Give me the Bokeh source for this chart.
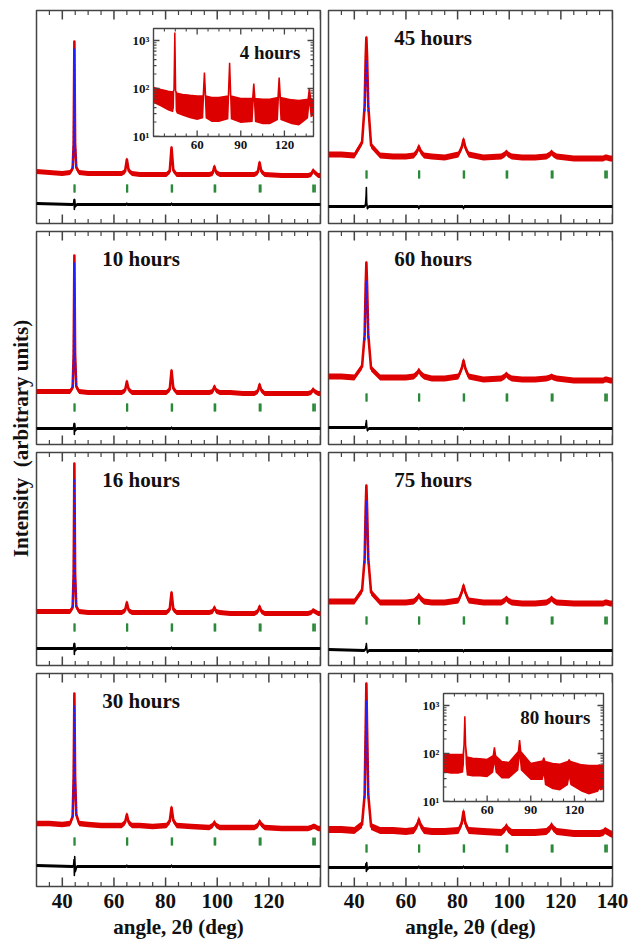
import math
from bokeh.plotting import figure
from bokeh.models import (Range1d, LinearAxis, LogAxis, SingleIntervalTicker, FixedTicker,
                          CustomJSTickFormatter, Label, LogScale)
from bokeh.embed import file_html
from bokeh.resources import INLINE
from bokeh.core.properties import value

# ---------------- data (arbitrary units) ----------------
ANGLE = [30, 35, 40, 43.0, 44.0, 44.4, 44.67, 44.95, 45.4, 46.5, 50, 55, 60,
         63.0, 64.3, 65.0, 65.7, 67.0, 70, 75, 80.3, 81.6, 82.3, 83.0, 84.3, 90,
         96.9, 98.2, 98.9, 99.6, 101.0, 105, 110, 114.4, 115.7, 116.4, 117.1, 118.4,
         125, 130, 135.1, 136.4, 137.1, 137.8, 139.1, 140]

OBS_4H = [52, 51, 50, 51, 55, 80, 182, 80, 56, 51, 50, 50, 50, 50, 52, 64, 53, 50, 49, 49,
          49, 52, 76, 53, 49, 49, 49, 50, 57, 51, 49, 49, 49, 49, 51, 61, 52, 49, 48, 48,
          48, 49, 53, 51, 48, 48]
OBS_45H = [69, 69, 68, 81, 118, 166, 186, 166, 118, 78, 68, 67, 67, 68, 72, 77, 72, 68, 67, 66,
           69, 76, 84, 76, 69, 66, 67, 69, 71, 69, 67, 66, 66, 67, 69, 71, 69, 67, 65, 65,
           65, 65, 66, 66, 65, 65]
OBS_10H = [53, 53, 53, 53, 57, 90, 189, 90, 58, 53, 52, 52, 52, 52, 54, 63, 55, 52, 52, 52,
           52, 55, 74, 56, 52, 52, 52, 53, 58, 54, 52, 52, 51, 51, 53, 60, 54, 51, 51, 51,
           51, 52, 55, 53, 51, 51]
OBS_60H = [68, 68, 67, 78, 110, 159, 182, 159, 110, 76, 67, 67, 67, 68, 71, 74, 71, 68, 66, 66,
           68, 76, 84, 76, 68, 65, 66, 68, 70, 68, 66, 65, 65, 66, 67, 68, 67, 66, 64, 64,
           64, 64, 65, 65, 64, 64]
OBS_16H = [54, 54, 54, 54, 58, 92, 202, 92, 59, 54, 53, 53, 53, 53, 55, 63, 55, 53, 53, 53,
           53, 56, 73, 56, 53, 53, 53, 54, 58, 54, 53, 52, 52, 52, 54, 59, 54, 52, 52, 52,
           52, 53, 55, 54, 52, 52]
OBS_75H = [64, 64, 64, 75, 107, 157, 180, 157, 107, 73, 63, 63, 63, 64, 67, 70, 67, 64, 63, 63,
           65, 73, 80, 73, 65, 63, 63, 65, 67, 65, 63, 62, 62, 63, 65, 67, 65, 63, 62, 62,
           62, 62, 63, 63, 62, 62]
OBS_30H = [63, 63, 62, 63, 70, 110, 193, 110, 72, 63, 62, 61, 61, 61, 64, 72, 64, 61, 61, 60,
           61, 65, 79, 66, 61, 60, 59, 61, 64, 61, 59, 59, 59, 59, 61, 65, 62, 59, 58, 58,
           58, 59, 60, 60, 58, 58]
OBS_80H = [57, 57, 56, 62, 92, 157, 203, 157, 92, 60, 56, 56, 55, 56, 61, 67, 61, 56, 55, 55,
           56, 63, 75, 63, 56, 55, 54, 57, 60, 57, 54, 54, 54, 55, 58, 61, 58, 55, 53, 53,
           53, 54, 56, 55, 53, 52]

CALC_ANGLE = [44.0, 44.4, 44.67, 44.95, 45.4]
CALC_4H = [55, 78, 175, 78, 56]
CALC_45H = [112, 150, 163, 150, 112]
CALC_10H = [57, 86, 182, 86, 58]
CALC_60H = [104, 145, 164, 145, 104]
CALC_16H = [58, 88, 187, 88, 59]
CALC_75H = [102, 146, 165, 146, 102]
CALC_30H = [69, 104, 181, 104, 71]
CALC_80H = [88, 145, 186, 145, 88]

DIFF_ANGLE = [30, 43.8, 44.3, 44.55, 44.67, 44.8, 45.05, 45.6, 64.8, 65.0, 65.2, 82.1, 82.3, 82.5, 140]
DIFF_4H = [20, 19, 19, 24, 14, 24, 17, 19, 19, 20, 19, 19, 20, 19, 19]
DIFF_45H = [17, 17, 18, 27, 36, 21, 15, 17, 17, 15, 17, 17, 15, 17, 17]
DIFF_10H = [16, 16, 16, 21, 10, 21, 14, 16, 16, 17, 16, 16, 17, 16, 16]
DIFF_60H = [17, 17, 17, 21, 24, 19, 14, 16, 16, 15, 16, 16, 15, 16, 16]
DIFF_16H = [17, 17, 17, 22, 11, 22, 15, 17, 17, 18, 17, 17, 18, 17, 17]
DIFF_75H = [16, 15, 16, 19, 22, 18, 13, 15, 15, 14, 15, 15, 14, 15, 15]
DIFF_30H = [21, 20, 20, 27, 11, 30, 15, 20, 20, 21, 20, 20, 21, 20, 20]
DIFF_80H = [19, 19, 19, 23, 15, 24, 17, 19, 19, 20, 19, 19, 20, 19, 19]

# Bragg reflection positions (K-alpha1 and K-alpha2)
BRAGG = [44.67, 65.02, 82.33, 98.95, 116.39, 137.14,
         44.79, 65.20, 82.58, 99.28, 116.85, 137.86]
TICK_LEVEL = {"4 hours": 35, "45 hours": 49, "10 hours": 37, "60 hours": 47,
              "16 hours": 38, "75 hours": 45, "30 hours": 45, "80 hours": 38}

LABELS = ["4 hours", "45 hours", "10 hours", "60 hours", "16 hours", "75 hours", "30 hours", "80 hours"]
OBS = [OBS_4H, OBS_45H, OBS_10H, OBS_60H, OBS_16H, OBS_75H, OBS_30H, OBS_80H]
CALC = [CALC_4H, CALC_45H, CALC_10H, CALC_60H, CALC_16H, CALC_75H, CALC_30H, CALC_80H]
DIFF = [DIFF_4H, DIFF_45H, DIFF_10H, DIFF_60H, DIFF_16H, DIFF_75H, DIFF_30H, DIFF_80H]

# axis tick positions
X_MAJOR = [40, 60, 80, 100, 120, 140]
X_MINOR = [35, 45, 50, 55, 65, 70, 75, 85, 90, 95, 105, 110, 115, 125, 130, 135]
IN_X_MAJOR = [60, 90, 120]
IN_X_MINOR = [37.5, 45, 52.5, 67.5, 75, 82.5, 97.5, 105, 112.5, 127.5, 135]
IN_Y_MAJOR = [10, 100, 1000]
IN_Y_MINOR = [20, 30, 40, 50, 60, 70, 80, 90, 200, 300, 400, 500, 600, 700, 800, 900]

# insets (counts, log scale): upper / lower edge of the observed scatter band
INSET_ANGLE = [30, 35, 40, 43.5, 44.1, 44.67, 45.2, 46, 50, 55, 60, 64.2, 65.02, 65.8, 70, 75,
               81.5, 82.33, 83.1, 90, 98.2, 98.95, 99.7, 105, 110, 115.6, 116.39, 117.2,
               125, 130, 136.3, 137.14, 138, 140]
INSET4_HI = [105, 95, 88, 85, 95, 1470, 90, 80, 75, 72, 70, 70, 215, 70, 65, 65, 70, 345, 70, 62,
             62, 127, 62, 60, 60, 65, 170, 65, 58, 56, 60, 100, 62, 56]
INSET4_LO = [50, 42, 35, 32, 40, 300, 35, 30, 27, 24, 22, 24, 90, 24, 20, 20, 23, 120, 23, 19,
             20, 55, 20, 18, 18, 22, 70, 22, 18, 17, 24, 45, 25, 27]
INSET80_HI = [95, 95, 95, 95, 150, 600, 150, 85, 80, 78, 75, 90, 135, 90, 68, 65, 110, 190, 110, 62,
              70, 82, 68, 62, 60, 68, 75, 68, 58, 56, 56, 58, 56, 56]
INSET80_LO = [40, 38, 38, 40, 60, 250, 60, 35, 33, 33, 32, 40, 60, 40, 30, 30, 45, 80, 45, 28,
              28, 35, 22, 18, 17, 22, 30, 22, 16, 14, 16, 18, 17, 18]

# ---------------- style ----------------
FONT = "Liberation Serif"
RED = "#dd0000"
BLUE = "#1f1fff"
GREEN = "#2b8a3a"
FRAME = "#444444"
BAND_HALF = {"4 hours": 2.5, "45 hours": 3, "10 hours": 2.5, "60 hours": 3,
             "16 hours": 2.5, "75 hours": 3, "30 hours": 2.7, "80 hours": 3.5}
COLS = [36, 328]
ROWS = [10, 231, 452, 673]
FW, FH = 284, 213

blank = CustomJSTickFormatter(code="return '';")


def x_axis(labels, hide=None):
    ax = LinearAxis(ticker=FixedTicker(ticks=X_MAJOR), major_tick_in=0, major_tick_out=0,
                    minor_tick_in=0, minor_tick_out=0, axis_line_color=None,
                    major_tick_line_color=None, minor_tick_line_color=None)
    if labels:
        code = "return tick >= 139 ? '' : tick.toFixed(0);" if hide else "return tick.toFixed(0);"
        ax.formatter = CustomJSTickFormatter(code=code)
        ax.major_label_text_font = FONT
        ax.major_label_text_font_style = "bold"
        ax.major_label_text_font_size = "21px"
        ax.major_label_text_color = "#111111"
        ax.major_label_standoff = 7
        ax.axis_label = "angle, 2\u03b8 (deg)"
        ax.axis_label_text_font = FONT
        ax.axis_label_text_font_style = "bold"
        ax.axis_label_text_font_size = "21px"
        ax.axis_label_text_color = "#111111"
        ax.axis_label_standoff = 4
    return ax


def no_grid(p):
    p.xgrid.visible = False
    p.ygrid.visible = False
    for g in p.grid:
        g.grid_line_color = None


def edge_ticks(p, xs, y_edges, size, angle, width):
    for ye in y_edges:
        p.scatter(xs, [ye] * len(xs), marker="dash", angle=angle, size=size,
                  line_color=FRAME, line_width=width)


roots = []
for i, lab in enumerate(LABELS):
    r, c = divmod(i, 2)
    bottom = (r == 3)
    left, top = COLS[c], ROWS[r]
    mbl, mbt, mbr, mbb = 20, 12, 20, (66 if bottom else 12)
    p = figure(frame_width=FW, frame_height=FH, x_range=Range1d(30, 140), y_range=Range1d(0, 213),
               x_axis_location=None, y_axis_location=None, output_backend="svg", toolbar_location=None,
               min_border_left=mbl, min_border_right=mbr, min_border_top=mbt, min_border_bottom=mbb,
               border_fill_color=None, background_fill_color="white",
               outline_line_color=FRAME, outline_line_width=1.5,
               styles={"position": "absolute", "left": f"{left - mbl}px", "top": f"{top - mbt}px"})
    no_grid(p)
    if bottom:
        p.add_layout(x_axis(True, hide=(c == 0)), "below")

    # tick marks on the top and bottom frame edges (inward)
    edge_ticks(p, X_MAJOR, [0, 213], 18, math.pi / 2, 1.5)
    edge_ticks(p, X_MINOR, [0, 213], 9, math.pi / 2, 1.2)

    # difference curve
    d = DIFF[i]
    p.varea(x=DIFF_ANGLE, y1=[v - 1.6 for v in d], y2=[v + 1.6 for v in d], fill_color="black")
    p.line(DIFF_ANGLE, d, line_color="black", line_width=1.6, line_join="round")
    # Bragg ticks
    p.scatter(BRAGG, [TICK_LEVEL[lab]] * len(BRAGG), marker="dash", angle=math.pi / 2,
              size=8, line_color=GREEN, line_width=1.8)
    # observed (scatter band)
    h = BAND_HALF[lab]
    o = OBS[i]
    p.varea(x=ANGLE, y1=[v - h for v in o], y2=[v + h for v in o], fill_color=RED)
    p.line(ANGLE, o, line_color=RED, line_width=2.6, line_join="round")
    # calculated (visible on the main reflection)
    p.line(CALC_ANGLE, CALC[i], line_color=BLUE, line_width=1.8, line_dash="3 2")

    if lab not in ("4 hours", "80 hours"):
        p.add_layout(Label(x=55.5, y=186, text=lab, text_font=FONT, text_font_style="bold",
                           text_font_size="21px", text_baseline="middle", text_color="#111111"))
    roots.append(p)


def inset(left, top, hi, lo, lab):
    mbl, mbt, mbr, mbb = 40, 8, 8, 26
    p = figure(frame_width=160, frame_height=108, x_range=Range1d(30, 140), y_range=Range1d(10, 1780),
               y_axis_type="log", x_axis_location=None, y_axis_location=None,
               output_backend="svg", toolbar_location=None,
               min_border_left=mbl, min_border_right=mbr, min_border_top=mbt, min_border_bottom=mbb,
               border_fill_color=None, background_fill_color="white",
               outline_line_color=FRAME, outline_line_width=1.4,
               styles={"position": "absolute", "left": f"{left - mbl}px", "top": f"{top - mbt}px"})
    no_grid(p)
    p.y_scale = LogScale()
    no_tick = dict(major_tick_in=0, major_tick_out=0, minor_tick_in=0, minor_tick_out=0,
                   axis_line_color=None, major_tick_line_color=None, minor_tick_line_color=None)
    lab_style = dict(major_label_text_font=FONT, major_label_text_font_style="bold",
                     major_label_text_font_size="13px", major_label_text_color="#111111",
                     major_label_standoff=4)
    bx = LinearAxis(ticker=FixedTicker(ticks=IN_X_MAJOR),
                    formatter=CustomJSTickFormatter(code="return tick.toFixed(0);"),
                    **no_tick, **lab_style)
    ly = LogAxis(ticker=FixedTicker(ticks=IN_Y_MAJOR), formatter=CustomJSTickFormatter(
        code="const m = {10: '10\\u00b9', 100: '10\\u00b2', 1000: '10\\u00b3'}; return m[Math.round(tick)] || '';"),
        **no_tick, **lab_style)
    p.add_layout(bx, "below")
    p.add_layout(ly, "left")
    p.varea(x=INSET_ANGLE, y1=lo, y2=hi, fill_color=RED)
    p.line(INSET_ANGLE, hi, line_color=RED, line_width=1.5)
    # inward ticks on all four edges
    edge_ticks(p, IN_X_MAJOR, [10, 1780], 12, math.pi / 2, 1.3)
    edge_ticks(p, IN_X_MINOR, [10, 1780], 6, math.pi / 2, 1.1)
    for xe in (30, 140):
        p.scatter([xe] * len(IN_Y_MAJOR), IN_Y_MAJOR, marker="dash", size=12,
                  line_color=FRAME, line_width=1.3)
        p.scatter([xe] * len(IN_Y_MINOR), IN_Y_MINOR, marker="dash", size=6,
                  line_color=FRAME, line_width=1.1)
    p.add_layout(Label(x=131, y=560, text=lab, text_font=FONT, text_font_style="bold",
                       text_font_size="19px", text_baseline="middle", text_align="right",
                       text_color="#111111"))
    return p


roots.append(inset(153, 28, INSET4_HI, INSET4_LO, "4 hours"))
roots.append(inset(443, 693, INSET80_HI, INSET80_LO, "80 hours"))

# common y title
yt_fig = figure(frame_width=30, frame_height=876, x_range=Range1d(0, 1), y_range=Range1d(0, 876),
                x_axis_location=None, y_axis_location=None, output_backend="svg", toolbar_location=None,
                min_border=0, border_fill_color=None, background_fill_color=None, outline_line_color=None,
                styles={"position": "absolute", "left": "5px", "top": "10px"})
no_grid(yt_fig)
yt_fig.text(x=[0.5], y=[448], text=["Intensity\u00a0\u00a0(arbitrary units)"], angle=math.pi / 2,
            text_align="center", text_baseline="middle", text_font=value(FONT),
            text_font_style="bold", text_font_size="21px", text_color="#111111")
roots.insert(0, yt_fig)

with open("out.html", "w", encoding="utf-8") as f:
    f.write(file_html(roots, INLINE))
